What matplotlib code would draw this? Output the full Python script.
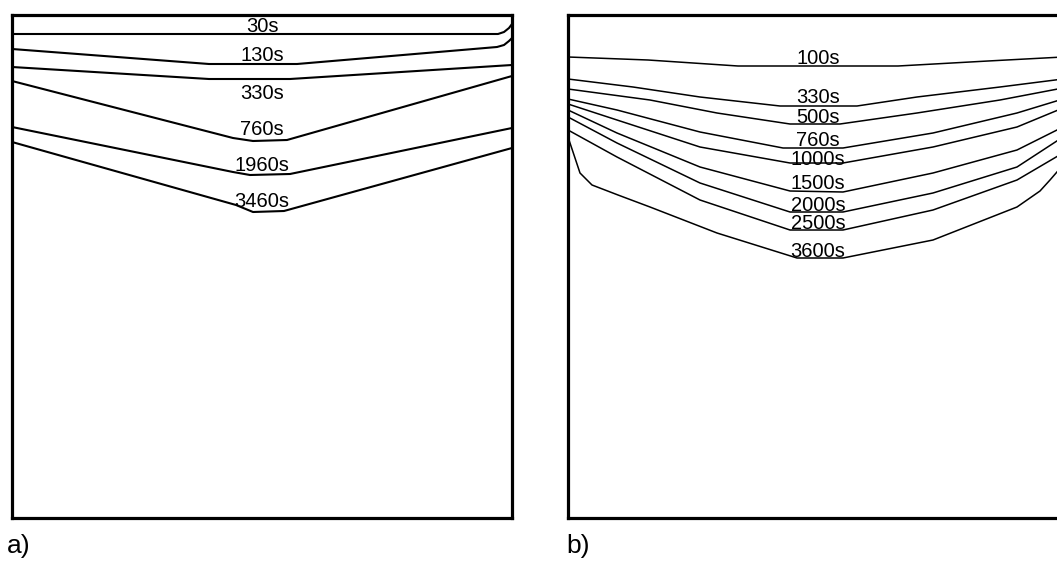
import matplotlib
matplotlib.use("Agg")
import matplotlib.pyplot as plt

# ---------------- data (panel units: x across 0..500, depth downward 0..503) -------------
a_labels = ["30s", "130s", "330s", "760s", "1960s", "3460s"]
a_label_depth = [17, 46, 84, 120, 156, 192]
a_curve_x = [
    [0, 486, 492, 497, 500],
    [0, 197, 285, 485, 492, 497, 500],
    [0, 197, 278, 500],
    [0, 221, 241, 275, 500],
    [0, 221, 238, 278, 500],
    [0, 224, 241, 272, 500],
]
a_curve_depth = [
    [19, 19, 17, 13, 9],
    [34, 49, 49, 32, 30, 26, 23],
    [52, 64, 64, 50],
    [66, 123, 126, 125, 61],
    [112, 157, 160, 159, 113],
    [127, 190, 197, 196, 133],
]

b_labels = ["100s", "330s", "500s", "760s", "1000s", "1500s", "2000s", "2500s", "3600s"]
b_label_depth = [49, 88, 108, 131, 150, 174, 196, 214, 242]
b_curve_x = [
    [0, 80, 170, 330, 420, 495],
    [0, 65, 132, 212, 289, 349, 432, 495],
    [0, 82, 149, 222, 272, 349, 432, 495],
    [0, 49, 132, 215, 275, 365, 449, 495],
    [0, 49, 132, 222, 275, 365, 449, 495],
    [0, 49, 132, 222, 275, 365, 449, 495],
    [0, 49, 132, 222, 275, 365, 449, 495],
    [0, 49, 132, 222, 275, 365, 449, 495],
    [0, 12, 24, 50, 82, 149, 229, 275, 365, 449, 472, 482, 495],
]
b_curve_depth = [
    [42, 45, 51, 51, 46, 42],
    [64, 72, 82, 91, 91, 82, 72, 64],
    [74, 85, 98, 109, 109, 98, 85, 73],
    [84, 95, 117, 133, 133, 118, 98, 84],
    [89, 105, 132, 148, 148, 132, 112, 93],
    [95, 118, 152, 176, 177, 158, 135, 112],
    [102, 128, 168, 197, 197, 178, 152, 122],
    [115, 142, 185, 215, 215, 195, 165, 138],
    [122, 158, 170, 180, 192, 218, 243, 243, 225, 192, 176, 165, 150],
]
panel_names = ["a)", "b)"]

# ---------------- figure ----------------
W, H = 1057, 565
fig = plt.figure(figsize=(W / 100, H / 100), dpi=100)
fig.patch.set_facecolor("white")
FONT = "Liberation Sans"


def make_axes(left_px):
    ax = fig.add_axes([left_px / W, 1 - 518 / H, 500 / W, 503 / H])
    ax.set_xlim(0, 500)
    ax.set_ylim(503, 0)
    ax.set_xticks([])
    ax.set_yticks([])
    for s in ax.spines.values():
        s.set_linewidth(2.3)
        s.set_color("black")
    return ax


ax_a = make_axes(12)
for xs, ds in zip(a_curve_x, a_curve_depth):
    ax_a.plot(xs, ds, color="black", lw=1.5, solid_joinstyle="round")
for lab, d in zip(a_labels, a_label_depth):
    ax_a.text(250, d, lab, ha="center", va="baseline", fontsize=14.5,
              family=FONT, color="black")

ax_b = make_axes(568)
for xs, ds in zip(b_curve_x, b_curve_depth):
    ax_b.plot(xs, ds, color="black", lw=1.1, solid_joinstyle="round")
for lab, d in zip(b_labels, b_label_depth):
    ax_b.text(250, d, lab, ha="center", va="baseline", fontsize=14.5,
              family=FONT, color="black")

fig.text(7 / W, 1 - 553 / H, panel_names[0], ha="left", va="baseline",
         fontsize=19, family=FONT)
fig.text(566 / W, 1 - 553 / H, panel_names[1], ha="left", va="baseline",
         fontsize=19, family=FONT)

fig.savefig("out.png", dpi=100, facecolor="white")
